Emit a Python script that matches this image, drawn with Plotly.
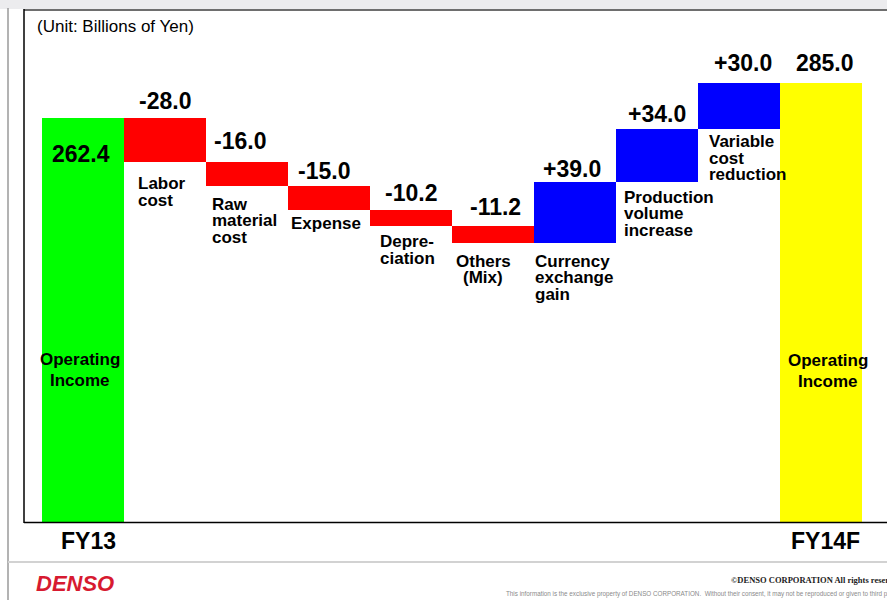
import plotly.graph_objects as go

# ---------------- data ----------------
categories = ["FY13", "Labor cost", "Raw material cost", "Expense", "Depreciation",
              "Others (Mix)", "Currency exchange gain", "Production volume increase",
              "Variable cost reduction", "FY14F"]
measures = ["total", "delta", "delta", "delta", "delta", "delta", "delta", "delta", "delta", "total"]
values = [262.4, -28.0, -16.0, -15.0, -10.2, -11.2, 39.0, 34.0, 30.0, 285.0]
value_labels = ["262.4", "-28.0", "-16.0", "-15.0", "-10.2", "-11.2", "+39.0", "+34.0", "+30.0", "285.0"]
label_lines = [[], ["Labor", "cost"], ["Raw", "material", "cost"], ["Expense"],
               ["Depre-", "ciation"], ["Others", "(Mix)"], ["Currency", "exchange", "gain"],
               ["Production", "volume", "increase"], ["Variable", "cost", "reduction"], []]
total_title = ["Operating", "Income"]
unit_text = "(Unit: Billions of Yen)"

# ---------------- styles ----------------
FONT = "Arial, 'Liberation Sans', sans-serif"
W, H = 887, 600
ML, MR, MT, MB = 24, 0, 10, 78
PW, PH = W - ML - MR, H - MT - MB
total_colors = {0: "#00ff00", 9: "#ffff00"}
neg_color, pos_color = "#ff0000", "#0000ff"

# value label offsets (px): x shift from bar centre, baseline distance above bar top
val_dx = [-2.3, 0, -7, -4.7, 0, 2.5, -3, 0, 4, 4]
val_base = [-43.7, 9, 12.7, 7, 8.7, 10.7, 5.3, 7.3, 11.3, 11.3]
VAL_SIZE = 23
# category label: x shift from bar left edge, first baseline below bar bottom
cat_dx = [0, 13, 5, 2, 9, 0, 0, 7, 10, 0]
cat_first = [0, 28, 24, 20, 22, 24, 24, 21, 18, 0]
CAT_SIZE = 17
CAT_LS = 16.5


def px_x(p):
    return (p - ML) / PW


def px_y(p):
    return (H - MB - p) / PH


# ---------------- waterfall geometry via bases ----------------
bases, heights, colors, tops, bottoms = [], [], [], [], []
running = 0.0
for i, (m, v) in enumerate(zip(measures, values)):
    if m == "total":
        b = 0.0
        running = v
        colors.append(total_colors[i])
    else:
        b = running
        running = running + v
        colors.append(neg_color if v < 0 else pos_color)
    bases.append(b)
    heights.append(v)
    tops.append(max(b, b + v))
    bottoms.append(min(b, b + v))

fig = go.Figure()
fig.add_trace(go.Bar(
    x=categories, y=heights, base=bases,
    marker=dict(color=colors, line=dict(width=0)),
    width=1.0, hoverinfo="skip",
))

ann = []
# value labels
for i, lab in enumerate(value_labels):
    ann.append(dict(x=categories[i], y=tops[i], xref="x", yref="y",
                    text="<b>%s</b>" % lab, showarrow=False,
                    xanchor="center", yanchor="middle", borderpad=0,
                    xshift=val_dx[i], yshift=val_base[i] + 0.35 * VAL_SIZE,
                    font=dict(family=FONT, size=VAL_SIZE, color="#000")))

# category labels
for i, lines in enumerate(label_lines):
    for j, line in enumerate(lines):
        b = cat_first[i] + j * CAT_LS
        if categories[i] == "Others (Mix)":
            xa, xs, xv = "center", -10, categories[i]
        else:
            xa, xs, xv = "left", cat_dx[i], i - 0.5
        ann.append(dict(x=xv, y=bottoms[i], xref="x", yref="y",
                        text="<b>%s</b>" % line, showarrow=False,
                        xanchor=xa, yanchor="middle", borderpad=0,
                        xshift=xs, yshift=-(b - 0.35 * CAT_SIZE),
                        font=dict(family=FONT, size=CAT_SIZE, color="#000")))

# Operating Income labels inside totals
for i, dx, bl in [(0, -3.5, [365, 386.7]), (9, 7, [366, 387.3])]:
    for j, line in enumerate(total_title):
        ann.append(dict(x=categories[i], y=px_y(bl[j] - 0.35 * CAT_SIZE), xref="x", yref="paper",
                        text="<b>%s</b>" % line, showarrow=False,
                        xanchor="center", yanchor="middle", borderpad=0, xshift=dx,
                        font=dict(family=FONT, size=CAT_SIZE, color="#000")))

# FY labels under the box
for i, dx in [(0, 5.5), (9, 4)]:
    ann.append(dict(x=categories[i], y=px_y(549 - 0.35 * VAL_SIZE), xref="x", yref="paper",
                    text="<b>%s</b>" % categories[i], showarrow=False,
                    xanchor="center", yanchor="middle", borderpad=0, xshift=dx,
                    font=dict(family=FONT, size=VAL_SIZE, color="#000")))

# unit
ann.append(dict(x=px_x(36), y=px_y(32.3 - 0.35 * 16.5), xref="paper", yref="paper",
                text=unit_text, showarrow=False, xanchor="left", yanchor="middle", borderpad=0,
                font=dict(family=FONT, size=17, color="#000")))

# footer
ann.append(dict(x=px_x(35), y=px_y(590.5 - 0.35 * 21), xref="paper", yref="paper",
                text="<b><i>DENSO</i></b>", showarrow=False, xanchor="left", yanchor="middle",
                borderpad=0, font=dict(family=FONT, size=22, color="#d71a30")))
ann.append(dict(x=px_x(730), y=px_y(580), xref="paper", yref="paper",
                text="<b>©DENSO CORPORATION All rights reserved.</b>", showarrow=False,
                xanchor="left", yanchor="middle", borderpad=0,
                font=dict(family="'Liberation Serif', 'DejaVu Serif', serif", size=8.5, color="#222")))
ann.append(dict(x=px_x(505), y=px_y(594), xref="paper", yref="paper",
                text="This information is the exclusive property of DENSO CORPORATION.  Without their consent, it may not be reproduced or given to third parties.",
                showarrow=False, xanchor="left", yanchor="middle", borderpad=0,
                font=dict(family=FONT, size=6.3, color="#8a8a8a")))

shapes = [
    dict(type="rect", xref="paper", yref="paper", x0=px_x(0), x1=px_x(W), y0=px_y(0), y1=px_y(9),
         fillcolor="#ececee", line=dict(width=0), layer="below"),
    dict(type="line", xref="paper", yref="paper", x0=px_x(8), x1=px_x(8), y0=px_y(8), y1=px_y(H),
         line=dict(color="#9a9a9a", width=1.5)),
    dict(type="line", xref="paper", yref="paper", x0=px_x(8), x1=px_x(W), y0=px_y(562), y1=px_y(562),
         line=dict(color="#d2d2d2", width=2)),
    dict(type="line", xref="paper", yref="paper", x0=px_x(24), x1=px_x(W), y0=px_y(10), y1=px_y(10),
         line=dict(color="#6e6e6e", width=2)),
    dict(type="line", xref="paper", yref="paper", x0=px_x(24), x1=px_x(24), y0=px_y(9), y1=px_y(523),
         line=dict(color="#000", width=1.5)),
    dict(type="line", xref="paper", yref="paper", x0=px_x(24), x1=px_x(W), y0=px_y(522.5), y1=px_y(522.5),
         line=dict(color="#000", width=1.5)),
]

fig.update_layout(
    width=W, height=H,
    margin=dict(l=ML, r=MR, t=MT, b=MB, pad=0),
    paper_bgcolor="white", plot_bgcolor="white",
    showlegend=False, bargap=0,
    xaxis=dict(type="category", range=[-0.5 - 18 / 82, 9.5 + 25 / 82], visible=False, fixedrange=True),
    yaxis=dict(range=[(526 - 522) / 1.555, (526 - 10) / 1.555], visible=False, fixedrange=True),
    annotations=ann, shapes=shapes,
)

fig.write_html("out.html", config={"displayModeBar": False},
               post_script="document.body.style.margin='0';document.body.style.overflow='hidden';")
